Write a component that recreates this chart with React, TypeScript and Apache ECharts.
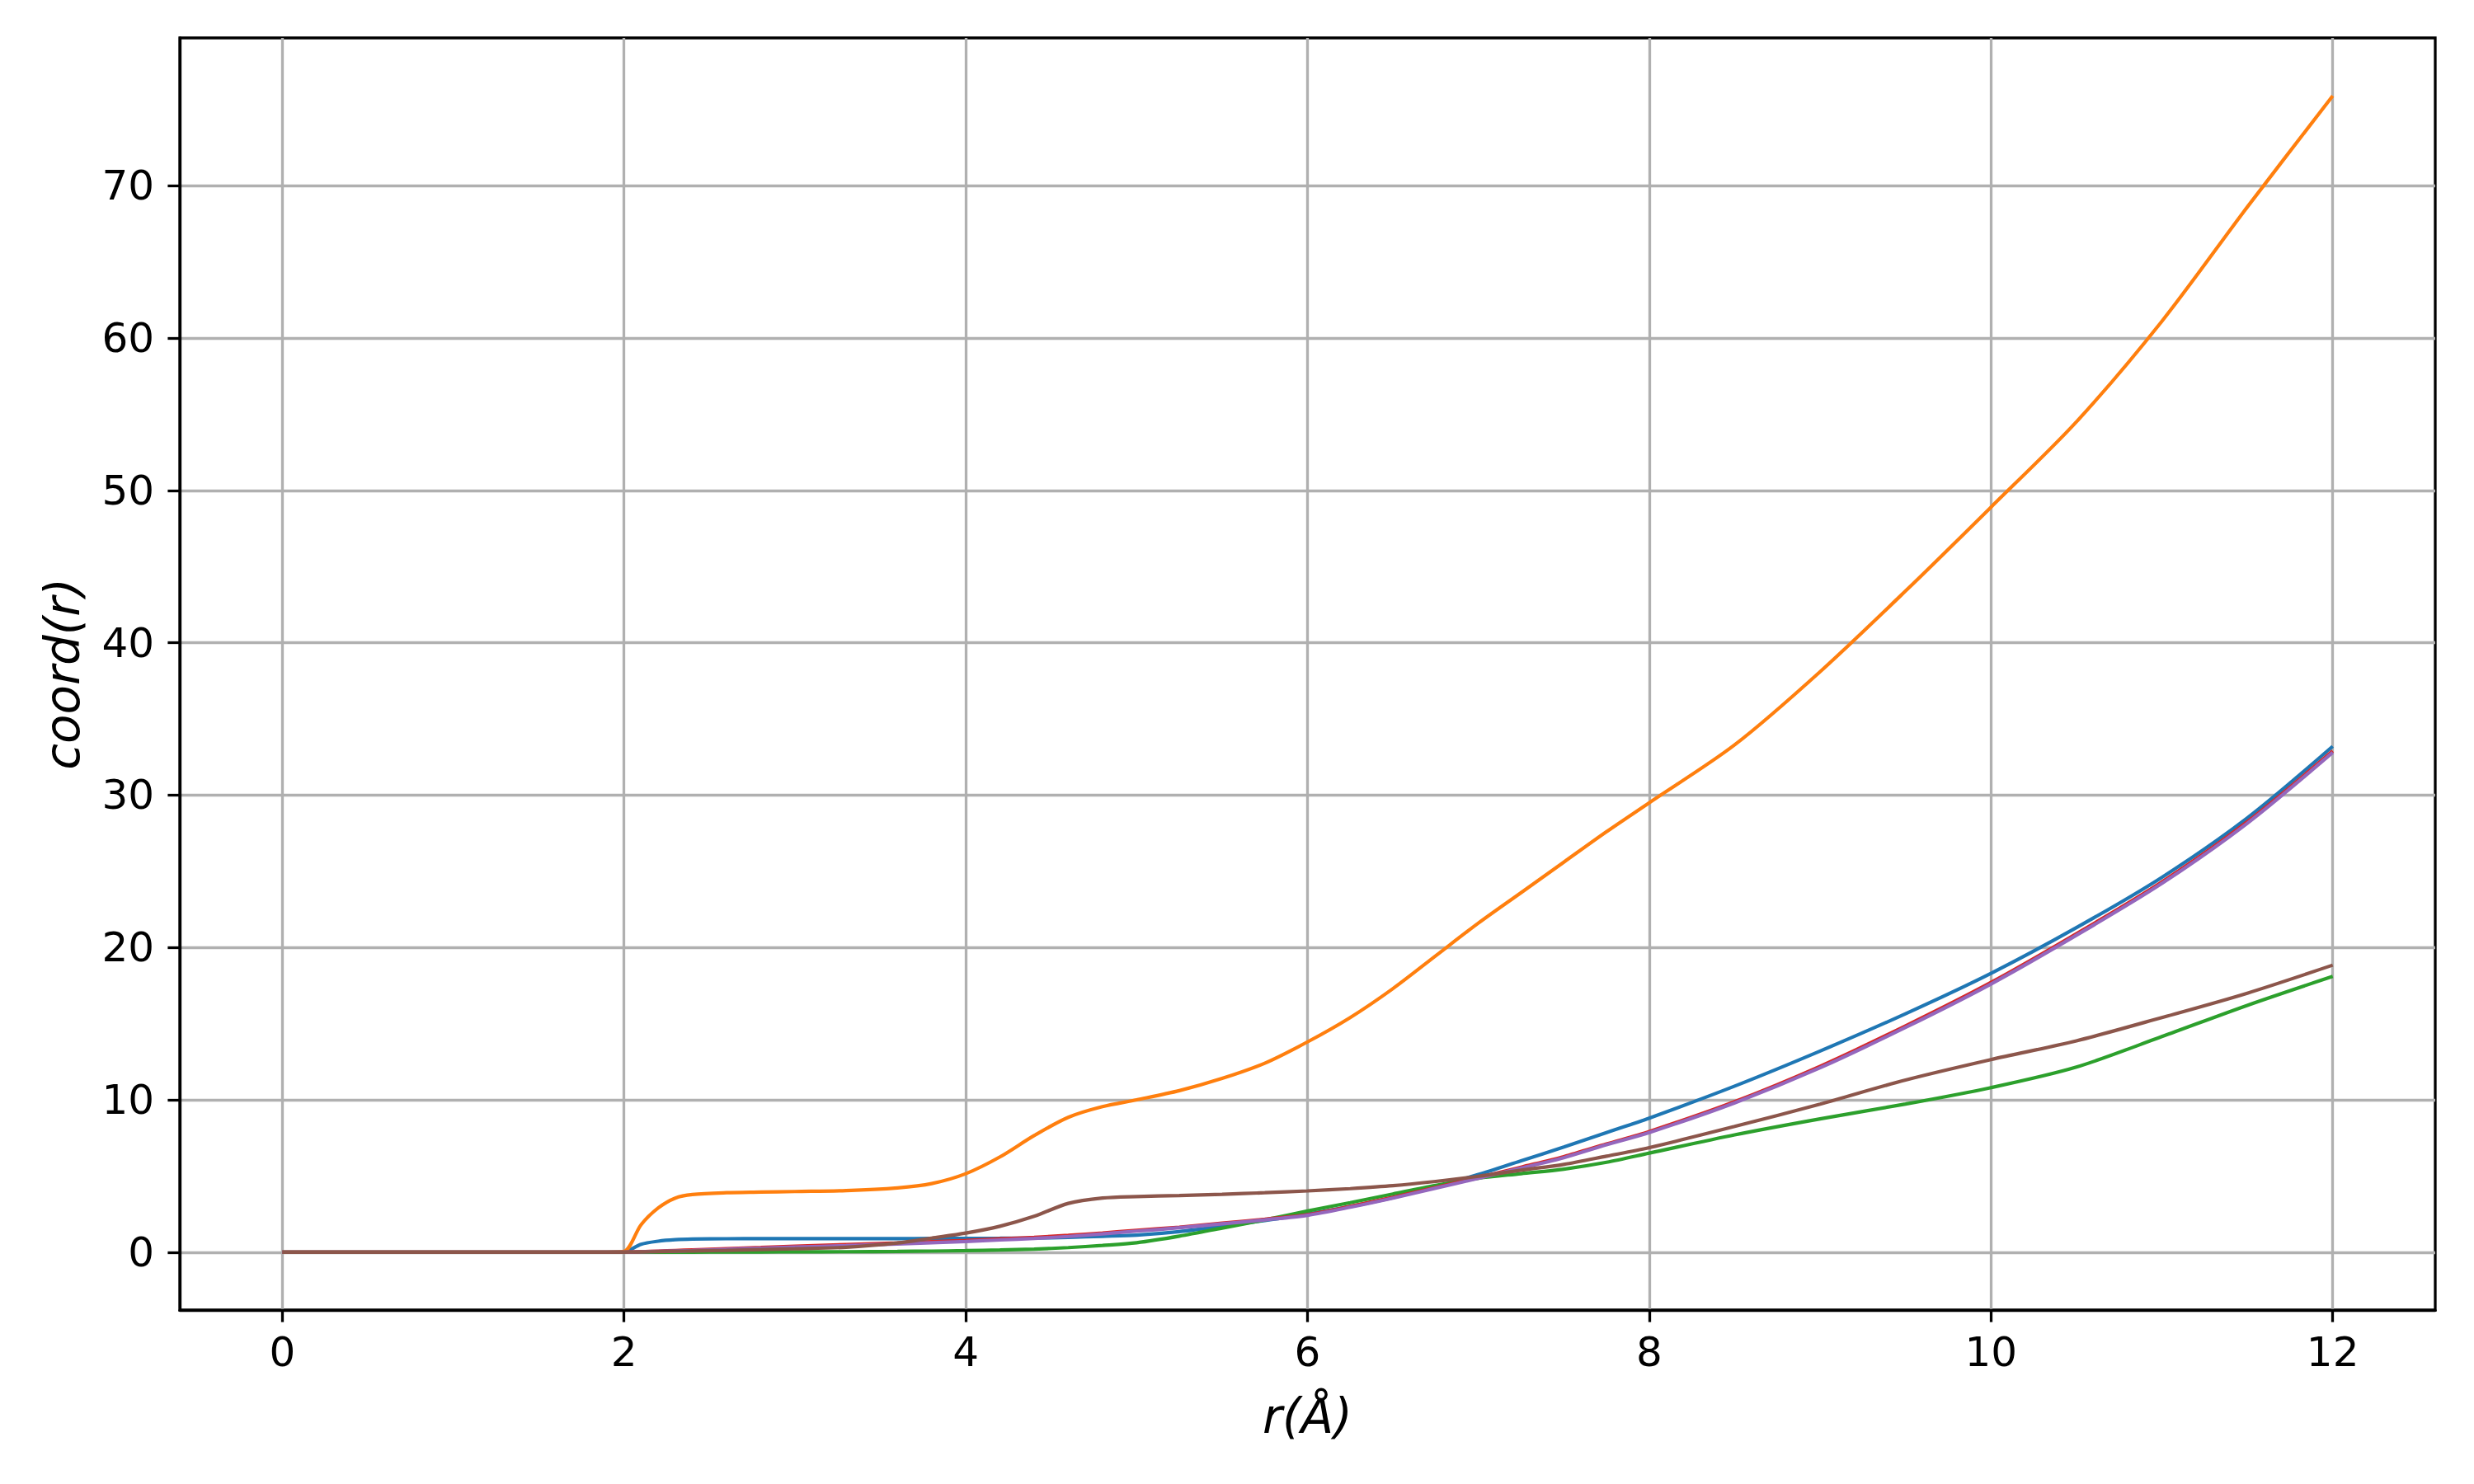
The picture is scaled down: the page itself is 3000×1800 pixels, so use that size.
import React, { useEffect, useRef } from "react";
import * as echarts from "echarts";

// r values (Å)
const r = [0, 1.9, 2.0, 2.1, 2.2, 2.3, 2.4, 2.6, 2.8, 3.0, 3.3, 3.6, 3.8, 4.0, 4.2, 4.4, 4.6, 4.8, 5.0, 5.25, 5.5, 5.75, 6.0, 6.25, 6.5, 6.75, 7.0, 7.25, 7.5, 7.75, 8.0, 8.5, 9.0, 9.5, 10.0, 10.5, 11.0, 11.5, 12.0];

const blueVals = [0, 0, 0.02, 0.52, 0.72, 0.82, 0.86, 0.88, 0.89, 0.89, 0.89, 0.89, 0.9, 0.9, 0.91, 0.93, 0.97, 1.04, 1.12, 1.35, 1.7, 2.08, 2.5, 3.0, 3.58, 4.3, 5.1, 6.0, 6.9, 7.85, 8.8, 10.9, 13.2, 15.65, 18.3, 21.3, 24.6, 28.5, 33.2];
const orangeVals = [0, 0, 0.05, 1.8, 2.9, 3.55, 3.78, 3.9, 3.94, 3.98, 4.04, 4.22, 4.5, 5.15, 6.25, 7.65, 8.85, 9.55, 10.0, 10.6, 11.4, 12.4, 13.8, 15.4, 17.3, 19.45, 21.6, 23.6, 25.6, 27.6, 29.5, 33.3, 38.1, 43.4, 48.9, 54.5, 61.1, 68.6, 75.9];
const greenVals = [0, 0, 0, 0, 0, 0, 0, 0.01, 0.01, 0.02, 0.03, 0.05, 0.07, 0.1, 0.14, 0.2, 0.3, 0.44, 0.62, 1.05, 1.58, 2.12, 2.7, 3.25, 3.82, 4.38, 4.85, 5.15, 5.45, 5.9, 6.5, 7.7, 8.75, 9.72, 10.8, 12.15, 14.15, 16.2, 18.1];
const redVals = [0, 0, 0, 0.03, 0.07, 0.11, 0.15, 0.23, 0.31, 0.39, 0.5, 0.61, 0.69, 0.77, 0.87, 0.97, 1.1, 1.26, 1.43, 1.64, 1.9, 2.16, 2.46, 3.0, 3.6, 4.25, 4.9, 5.58, 6.27, 7.1, 7.92, 9.88, 12.2, 14.85, 17.7, 20.9, 24.3, 28.25, 32.9];
const purpleVals = [0, 0, 0, 0.02, 0.05, 0.08, 0.11, 0.18, 0.26, 0.33, 0.43, 0.54, 0.62, 0.7, 0.8, 0.9, 1.03, 1.2, 1.38, 1.6, 1.86, 2.12, 2.42, 2.95, 3.55, 4.2, 4.85, 5.52, 6.2, 7.05, 7.85, 9.8, 12.1, 14.75, 17.6, 20.8, 24.2, 28.15, 32.8];
const brownVals = [0, 0, 0, 0.02, 0.04, 0.06, 0.08, 0.12, 0.17, 0.22, 0.32, 0.6, 0.92, 1.25, 1.7, 2.35, 3.2, 3.55, 3.65, 3.72, 3.8, 3.9, 4.02, 4.17, 4.36, 4.64, 4.98, 5.38, 5.76, 6.3, 6.86, 8.25, 9.72, 11.3, 12.64, 13.87, 15.4, 17.0, 18.84];

const seriesColors = ["#1f77b4", "#ff7f0e", "#2ca02c", "#d62728", "#9467bd", "#8c564b"];
const seriesValues = [blueVals, orangeVals, greenVals, redVals, purpleVals, brownVals];

const xTicks = [0, 2, 4, 6, 8, 10, 12];
const yTicks = [0, 10, 20, 30, 40, 50, 60, 70];

const FONT = "DejaVu Sans";

export default function App() {
  const ref = useRef<HTMLDivElement>(null);

  useEffect(() => {
    if (!ref.current) return;
    const chart = echarts.init(ref.current, null, { renderer: "svg" });

    const series = seriesValues.map((vals, i) => ({
      type: "line",
      data: r.map((x, j) => [x, vals[j]]),
      showSymbol: false,
      symbol: "none",
      smooth: 0.3,
      lineStyle: { color: seriesColors[i], width: 4.2 },
      itemStyle: { color: seriesColors[i] },
      clip: true,
    }));

    chart.setOption({
      animation: false,
      backgroundColor: "#ffffff",
      grid: {
        left: 218,
        top: 46,
        width: 2735,
        height: 1543,
        containLabel: false,
        show: true,
        borderColor: "#000000",
        borderWidth: 3.3,
        backgroundColor: "transparent",
      },
      xAxis: {
        type: "value",
        min: -0.6,
        max: 12.6,
        name: "r(Å)",
        nameLocation: "middle",
        nameGap: 100,
        nameTextStyle: { fontFamily: FONT, fontSize: 58, fontStyle: "italic", color: "#000" },
        axisLine: { show: true, onZero: false, lineStyle: { color: "#000", width: 3.3 } },
        axisTick: { show: true, inside: false, length: 14.6, customValues: xTicks, lineStyle: { color: "#000", width: 3.3 } },
        axisLabel: { show: true, customValues: xTicks, margin: 26, fontFamily: FONT, fontSize: 50, color: "#000" },
        splitLine: { show: true, lineStyle: { color: "#b0b0b0", width: 3.3 } },
      },
      yAxis: {
        type: "value",
        min: -3.8,
        max: 79.7,
        name: "coord(r)",
        nameLocation: "middle",
        nameRotate: 90,
        nameGap: 113,
        nameTextStyle: { fontFamily: FONT, fontSize: 58, fontStyle: "italic", color: "#000" },
        axisLine: { show: true, onZero: false, lineStyle: { color: "#000", width: 3.3 } },
        axisTick: { show: true, inside: false, length: 14.6, customValues: yTicks, lineStyle: { color: "#000", width: 3.3 } },
        axisLabel: { show: true, customValues: yTicks, margin: 31, fontFamily: FONT, fontSize: 50, color: "#000" },
        splitLine: { show: true, lineStyle: { color: "#b0b0b0", width: 3.3 } },
      },
      series,
    });

    return () => {
      chart.dispose();
    };
  }, []);

  return (
    <div
      ref={ref}
      style={{ position: "absolute", left: 0, top: 0, width: 3000, height: 1800, background: "#fff" }}
    />
  );
}
